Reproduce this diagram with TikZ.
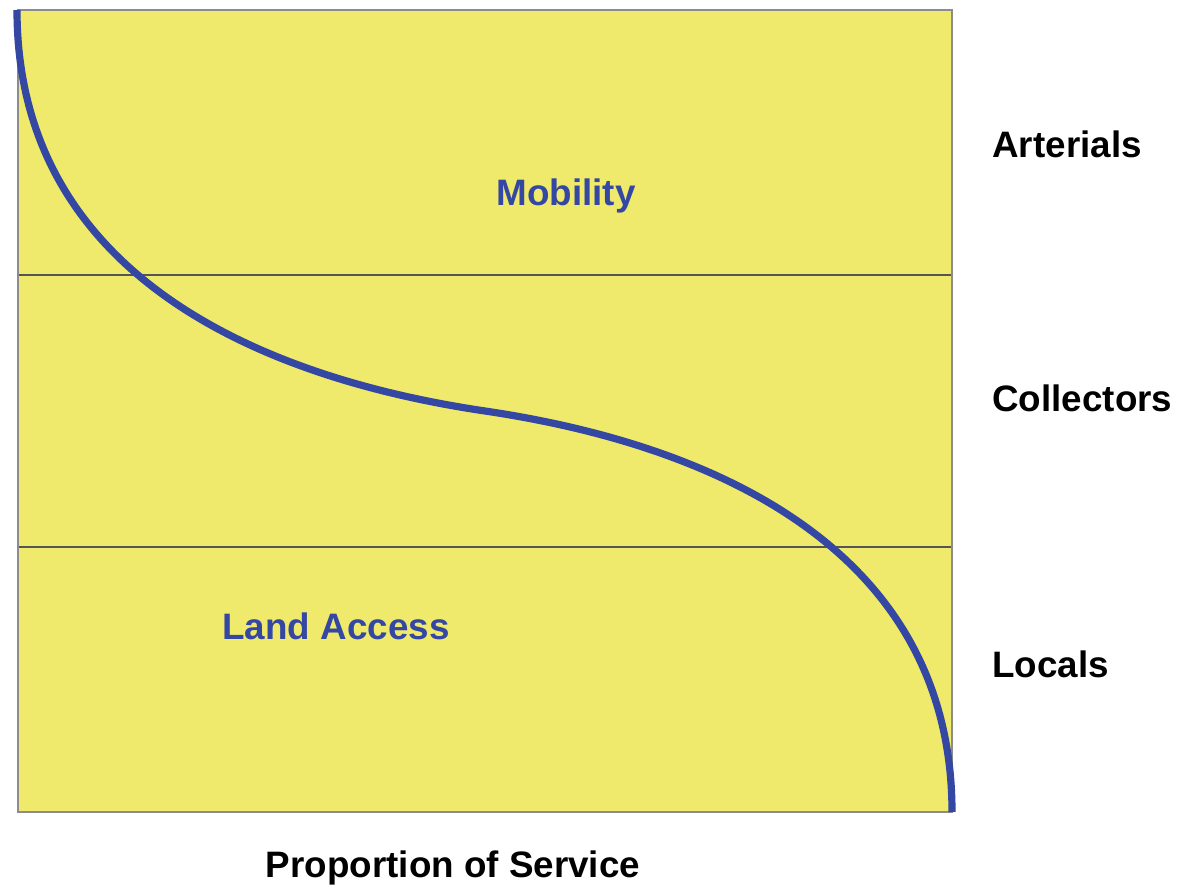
\documentclass[tikz,border=0pt]{standalone}
\usepackage{fontspec}
\setmainfont{Liberation Sans}
\definecolor{chartyellow}{HTML}{EFEA6B}
\definecolor{curveblue}{HTML}{3447A2}
\definecolor{framegray}{HTML}{8C8C8C}
\definecolor{rulegray}{HTML}{555555}
\begin{document}
\begin{tikzpicture}[
    x=0.5pt, y=-0.5pt,
    level/.style={anchor=west, font=\fontsize{18.4}{20}\selectfont\bfseries, text=black, inner sep=0pt},
    role/.style={font=\fontsize{18.4}{20}\selectfont\bfseries, text=curveblue, inner sep=0pt},
    axislabel/.style={font=\fontsize{18.4}{20}\selectfont\bfseries, text=black, inner sep=0pt},
    curve/.style={curveblue, line width=3.6pt}
]
    \useasboundingbox (0,0) rectangle (1201,888);

    \fill[chartyellow] (18,10) rectangle (952,812);
    \draw[rulegray, line width=0.7pt] (18,275) -- (952,275);
    \draw[rulegray, line width=0.7pt] (18,547) -- (952,547);
    \draw[framegray, line width=1.2pt] (18,10) rectangle (952,812);

    \coordinate (top) at (17,10);
    \coordinate (mid) at (485,411);
    \coordinate (bottom) at (952,812);
    \draw[curve] (top) .. controls (17,260) and (235,374) .. (mid)
        .. controls (735,448) and (952,562) .. (bottom);

    \node[level] (arterials) at (992,144) {Arterials};
    \node[level] (collectors) at (992,398) {Collectors};
    \node[level] (locals) at (992,664) {Locals};

    \node[role] (mobility) at (566,196) {Mobility};
    \node[role] (access) at (336,626) {Land Access};

    \node[axislabel] (service) at (453,868) {Proportion of Service};
\end{tikzpicture}
\end{document}
